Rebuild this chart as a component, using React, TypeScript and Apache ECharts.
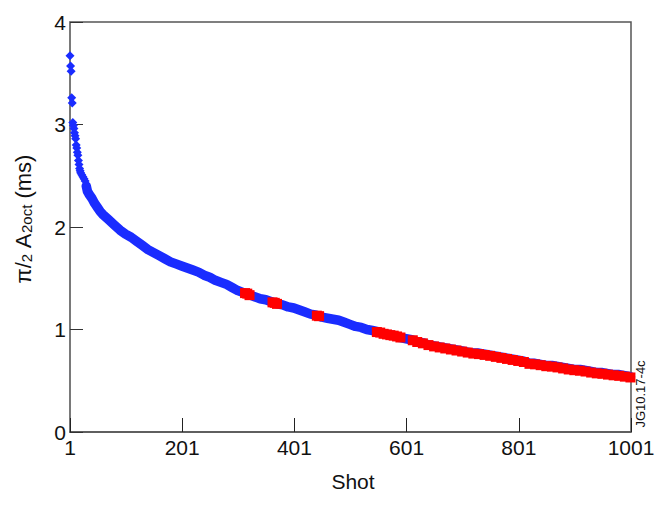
import React, { useEffect, useRef } from "react";
import * as echarts from "echarts";

// Early, separated measurements (shot rank, value in ms)
const earlyShots = [1, 2, 3, 4, 5, 6, 7, 8, 9, 10, 11, 12, 13, 14, 15, 16, 17, 18, 19, 20, 22, 24, 26, 28];
const earlyValues = [3.67, 3.57, 3.52, 3.26, 3.21, 3.02, 2.99, 2.96, 2.92, 2.89, 2.86, 2.8, 2.77, 2.73, 2.7, 2.65, 2.61, 2.57, 2.55, 2.53, 2.51, 2.49, 2.47, 2.45];

// Main blue band
const blueShots = [30, 32, 35, 40, 45, 50, 55, 60, 70, 80, 90, 100, 110, 120, 130, 140, 150, 160, 170, 180, 190, 200, 210, 220, 230, 240, 250, 260, 270, 280, 290, 300, 310, 320, 330, 340, 350, 360, 370, 380, 390, 400, 410, 420, 430, 440, 450, 460, 470, 480, 490, 500, 510, 520, 530, 540, 550, 560, 570, 580, 590, 600, 610, 620, 630, 640, 650, 660, 670, 680, 690, 700, 710, 720, 730, 740, 750, 760, 770, 780, 790, 800, 810, 820, 830, 840, 850, 860, 870, 880, 890, 900, 910, 920, 930, 940, 950, 960, 970, 980, 990, 1000];
const blueValues = [2.4, 2.35, 2.32, 2.28, 2.23, 2.19, 2.15, 2.12, 2.07, 2.02, 1.97, 1.93, 1.9, 1.86, 1.82, 1.78, 1.75, 1.72, 1.69, 1.66, 1.64, 1.62, 1.6, 1.58, 1.56, 1.53, 1.51, 1.48, 1.46, 1.44, 1.41, 1.38, 1.36, 1.34, 1.32, 1.3, 1.29, 1.27, 1.25, 1.24, 1.22, 1.21, 1.19, 1.17, 1.15, 1.14, 1.12, 1.11, 1.1, 1.09, 1.07, 1.05, 1.03, 1.02, 1.0, 0.99, 0.98, 0.96, 0.95, 0.94, 0.92, 0.91, 0.9, 0.88, 0.87, 0.85, 0.84, 0.83, 0.82, 0.81, 0.8, 0.79, 0.78, 0.77, 0.77, 0.76, 0.75, 0.74, 0.73, 0.72, 0.71, 0.7, 0.69, 0.67, 0.67, 0.66, 0.65, 0.65, 0.64, 0.63, 0.62, 0.61, 0.61, 0.6, 0.59, 0.58, 0.58, 0.57, 0.56, 0.56, 0.55, 0.54];

// Red highlighted shots
const redShots = [313, 317, 321, 362, 366, 370, 441, 445, 548, 554, 560, 566, 572, 578, 584, 590, 612, 620, 630, 640, 650, 660, 670, 680, 690, 700, 710, 720, 730, 740, 750, 760, 770, 780, 790, 800, 810, 820, 830, 840, 850, 860, 870, 880, 890, 900, 910, 920, 930, 940, 950, 960, 970, 980, 990, 1000];
const redValues = [1.355, 1.35, 1.335, 1.265, 1.26, 1.25, 1.135, 1.13, 0.975, 0.97, 0.958, 0.952, 0.945, 0.94, 0.932, 0.922, 0.895, 0.878, 0.865, 0.848, 0.835, 0.825, 0.815, 0.805, 0.795, 0.785, 0.775, 0.765, 0.76, 0.752, 0.743, 0.733, 0.723, 0.713, 0.703, 0.693, 0.683, 0.665, 0.66, 0.652, 0.642, 0.638, 0.63, 0.62, 0.61, 0.603, 0.598, 0.59, 0.58, 0.572, 0.568, 0.56, 0.553, 0.548, 0.54, 0.532];

const xTickLabels = ["1", "201", "401", "601", "801", "1001"];
const yTickLabels = ["0", "1", "2", "3", "4"];

const FONT = "Liberation Sans";
const BLUE = "#1a2cff";
const RED = "#ff0000";

export default function App() {
  const ref = useRef<HTMLDivElement>(null);
  useEffect(() => {
    if (!ref.current) return;
    const chart = echarts.init(ref.current, null, { renderer: "svg" });
    const zip = (xs: number[], ys: number[]) => xs.map((x, i) => [x, ys[i]]);
    chart.setOption({
      animation: false,
      backgroundColor: "#ffffff",
      grid: {
        left: 70,
        right: 29,
        top: 22,
        bottom: 75,
        show: true,
        borderColor: "#555",
        borderWidth: 1.5,
      },
      xAxis: {
        type: "value",
        min: 1,
        max: 1001,
        interval: 200,
        axisLine: { show: true, lineStyle: { color: "#555", width: 1.5 } },
        axisTick: { show: true, inside: true, length: 14, lineStyle: { color: "#222", width: 1 } },
        splitLine: { show: false },
        axisLabel: {
          color: "#111",
          fontFamily: FONT,
          fontSize: 21,
          margin: 5,
          formatter: (v: number) => {
            const i = xTickLabels.indexOf(String(v));
            return i >= 0 ? xTickLabels[i] : "";
          },
        },
      },
      yAxis: {
        type: "value",
        min: 0,
        max: 4,
        interval: 1,
        axisLine: { show: true, lineStyle: { color: "#777", width: 1.5 } },
        axisTick: { show: true, inside: true, length: 13, lineStyle: { color: "#333", width: 1 } },
        splitLine: { show: false },
        axisLabel: {
          color: "#111",
          fontFamily: FONT,
          fontSize: 21,
          margin: 4,
          formatter: (v: number) => {
            const i = yTickLabels.indexOf(String(v));
            return i >= 0 ? yTickLabels[i] : "";
          },
        },
      },
      series: [
        {
          type: "line",
          data: zip(blueShots, blueValues),
          symbol: "none",
          lineStyle: { color: BLUE, width: 9.5, cap: "round", join: "round", opacity: 1 },
          z: 2,
        },
        {
          type: "scatter",
          data: zip(earlyShots, earlyValues),
          symbol: "diamond",
          symbolSize: 9,
          itemStyle: { color: BLUE, opacity: 1 },
          z: 3,
        },
        {
          type: "scatter",
          data: zip(redShots, redValues),
          symbol: "rect",
          symbolSize: [10, 10],
          itemStyle: { color: RED, opacity: 1 },
          z: 4,
        },
      ],
      graphic: [
        {
          type: "text",
          x: 21,
          y: 219,
          rotation: Math.PI / 2,
          style: {
            text: "{n|π}{n|/}{s|2}{n| A}{s|2oct}{n| (ms)}",
            align: "center",
            verticalAlign: "middle",
            fill: "#111",
            rich: {
              n: { fontFamily: FONT, fontSize: 22, lineHeight: 26, fill: "#111", verticalAlign: "bottom" },
              s: { fontFamily: FONT, fontSize: 15, lineHeight: 20, fill: "#111", verticalAlign: "bottom" },
            },
          },
        },
        {
          type: "text",
          x: 353,
          y: 481,
          style: {
            text: "Shot",
            align: "center",
            verticalAlign: "middle",
            fill: "#111",
            fontFamily: FONT,
            fontSize: 21,
          },
        },
        {
          type: "text",
          x: 640,
          y: 394,
          rotation: Math.PI / 2,
          style: {
            text: "JG10.17-4c",
            align: "center",
            verticalAlign: "middle",
            fill: "#111",
            fontFamily: FONT,
            fontSize: 13,
          },
        },
      ],
    });
    return () => chart.dispose();
  }, []);
  return (
    <div
      ref={ref}
      style={{ position: "fixed", left: 0, top: 0, width: 660, height: 507, background: "#fff" }}
    />
  );
}
